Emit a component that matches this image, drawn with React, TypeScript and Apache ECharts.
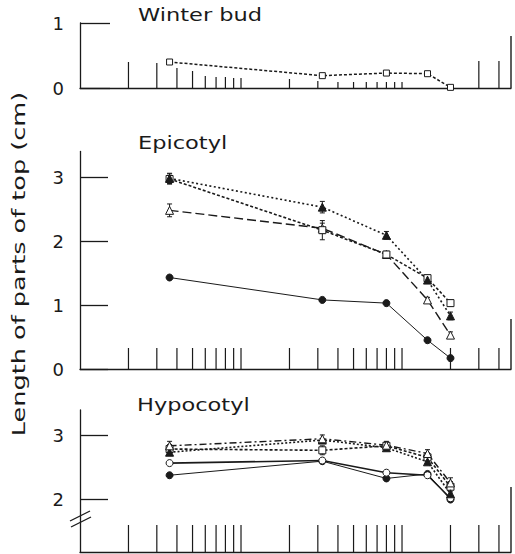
import React, { useEffect, useRef } from "react";
import * as echarts from "echarts";

// ---- data ----
const X_VALUES = [1.8, 16, 40, 72, 100];
const RUG_VALUES = [1, 1.5, 2, 2.5, 3, 3.5, 4, 4.5, 5, 10, 15, 20, 25, 30, 35, 40, 45, 50, 100, 150, 200];
const X_MIN = 0.5;
const X_MAX = 237.6;

const WB_SQUARE = [0.4, 0.19, 0.23, 0.22, 0.01];

const EPI_TRI_FILLED = [2.98, 2.53, 2.09, 1.39, 0.83];
const EPI_SQUARE = [2.97, 2.17, 1.79, 1.42, 1.03];
const EPI_TRI_OPEN = [2.48, 2.2, 1.79, 1.08, 0.53];
const EPI_CIRCLE_FILLED = [1.43, 1.08, 1.03, 0.45, 0.17];
const EPI_TRI_FILLED_ERR = [0.08, 0.09, 0.06, 0.05, 0.06];
const EPI_SQUARE_ERR = [0.08, 0.15, 0.05, 0.05, 0.05];
const EPI_TRI_OPEN_ERR = [0.1, 0.08, 0.04, 0.04, 0.05];

const HYP_TRI_OPEN = [2.84, 2.95, 2.85, 2.72, 2.26];
const HYP_TRI_FILLED = [2.74, 2.93, 2.81, 2.59, 2.09];
const HYP_SQUARE = [2.79, 2.77, 2.84, 2.66, 2.2];
const HYP_CIRCLE_OPEN = [2.57, 2.61, 2.42, 2.38, 2.02];
const HYP_CIRCLE_FILLED = [2.38, 2.6, 2.33, 2.4, 2.0];
const HYP_TRI_OPEN_ERR = [0.07, 0.06, 0.06, 0.06, 0.08];
const HYP_SQUARE_ERR = [0.07, 0.07, 0.06, 0.07, 0.08];

const WB_TICKS = [0, 1];
const EPI_TICKS = [0, 1, 2, 3];
const HYP_TICKS = [2, 3];

const TITLES = ["Winter bud", "Epicotyl", "Hypocotyl"];
const Y_NAME = "Length of parts of top (cm)";

// ---- styles ----
const INK = "#1a1a1a";
const FONT = "DejaVu Sans";
const RUG_HEIGHTS_WB = [26, 25, 20, 17, 12, 11, 11, 10, 10, 9, 7, 6, 6, 6, 6, 6, 6, 6, 0, 27, 27];
const RUG_H = [RUG_HEIGHTS_WB, 21, 27];
const EDGE_H = [52, 50, 65];
const Y_MINS = [0, 0, 1.18];

const lg = (v: number) => Math.log10(v);

function lineSeries(grid: number, values: number[], symbol: string, filled: boolean, lineType: any, lw: number, size = 7) {
  return {
    type: "line",
    xAxisIndex: grid,
    yAxisIndex: grid,
    data: values.map((v, i) => [lg(X_VALUES[i]), v]),
    symbol,
    symbolSize: size,
    showAllSymbol: true,
    lineStyle: { color: INK, width: lw, type: lineType },
    itemStyle: filled
      ? { color: INK, borderColor: INK, borderWidth: 1 }
      : { color: "#fff", borderColor: INK, borderWidth: 1 },
    z: 3,
  };
}

function errSeries(grid: number, values: number[], errs: number[]) {
  return {
    type: "custom",
    xAxisIndex: grid,
    yAxisIndex: grid,
    data: values.map((v, i) => [lg(X_VALUES[i]), v, errs[i]]),
    renderItem: (params: any, api: any) => {
      const x = api.value(0), y = api.value(1), e = api.value(2);
      if (!e) return null;
      const top = api.coord([x, y + e]);
      const bot = api.coord([x, y - e]);
      const c = 2.5;
      const st = { stroke: INK, lineWidth: 1 };
      return {
        type: "group",
        children: [
          { type: "line", shape: { x1: top[0], y1: top[1], x2: bot[0], y2: bot[1] }, style: st },
          { type: "line", shape: { x1: top[0] - c, y1: top[1], x2: top[0] + c, y2: top[1] }, style: st },
          { type: "line", shape: { x1: bot[0] - c, y1: bot[1], x2: bot[0] + c, y2: bot[1] }, style: st },
        ],
      };
    },
    z: 2,
    silent: true,
  };
}

function rugSeries(grid: number) {
  const hs = RUG_H[grid];
  const data: any[] = RUG_VALUES.map((v, i) => [lg(v), Array.isArray(hs) ? hs[i] : hs, 1.2]);
  data.push([lg(X_MAX), EDGE_H[grid], 1.4]);
  const yMin = Y_MINS[grid];
  return {
    type: "custom",
    xAxisIndex: grid,
    yAxisIndex: grid,
    data,
    clip: false,
    renderItem: (params: any, api: any) => {
      const x = api.value(0), h = api.value(1), w = api.value(2);
      if (!h) return null;
      const p = api.coord([x, yMin]);
      return {
        type: "line",
        shape: { x1: p[0], y1: p[1], x2: p[0], y2: p[1] - h },
        style: { stroke: INK, lineWidth: w },
      };
    },
    z: 1,
    silent: true,
  };
}

export default function App() {
  const ref = useRef<HTMLDivElement>(null);
  useEffect(() => {
    document.body.style.margin = "0";
    const chart = echarts.init(ref.current!, null, { renderer: "svg" });
    const grids = [
      { left: 80, top: 23, width: 431, height: 65 },
      { left: 80, top: 151.5, width: 431, height: 217.5 },
      { left: 80, top: 410, width: 431, height: 142 },
    ];
    const xAxes = grids.map((_, i) => ({
      type: "value",
      gridIndex: i,
      min: lg(X_MIN),
      max: lg(X_MAX),
      axisLine: { show: true, onZero: false, lineStyle: { color: INK, width: 1.3 } },
      axisTick: { show: false },
      axisLabel: { show: false },
      splitLine: { show: false },
    }));
    const mkY = (gridIndex: number, min: number, max: number, ticks: number[], tickLen: number) => ({
      type: "value",
      gridIndex,
      min,
      max,
      axisLine: { show: true, onZero: false, lineStyle: { color: INK, width: 1.3 } },
      axisTick: { show: true, inside: true, length: tickLen, customValues: ticks, lineStyle: { color: INK, width: 1.3 } },
      axisLabel: { color: INK, fontSize: 18, fontFamily: FONT, margin: 16, customValues: ticks },
      splitLine: { show: false },
    });
    const yAxes = [
      mkY(0, 0, 1, WB_TICKS, 30),
      mkY(1, 0, 3.4, EPI_TICKS, 28),
      mkY(2, 1.18, 3.4, HYP_TICKS, 28),
    ];
    const series: any[] = [
      rugSeries(0),
      rugSeries(1),
      rugSeries(2),
      lineSeries(0, WB_SQUARE, "rect", false, [3, 2], 1.5, 6),
      lineSeries(1, EPI_CIRCLE_FILLED, "circle", true, "solid", 1),
      lineSeries(1, EPI_TRI_OPEN, "triangle", false, [9, 4], 1.4, 8),
      lineSeries(1, EPI_SQUARE, "rect", false, [3, 2], 1.6, 7),
      lineSeries(1, EPI_TRI_FILLED, "triangle", true, [2, 2.5], 1.6, 8),
      errSeries(1, EPI_TRI_FILLED, EPI_TRI_FILLED_ERR),
      errSeries(1, EPI_SQUARE, EPI_SQUARE_ERR),
      errSeries(1, EPI_TRI_OPEN, EPI_TRI_OPEN_ERR),
      lineSeries(2, HYP_CIRCLE_FILLED, "circle", true, "solid", 1),
      lineSeries(2, HYP_CIRCLE_OPEN, "circle", false, "solid", 1.6),
      lineSeries(2, HYP_SQUARE, "rect", false, [3, 2], 1.6, 7),
      lineSeries(2, HYP_TRI_FILLED, "triangle", true, [2, 2], 1.6, 8),
      lineSeries(2, HYP_TRI_OPEN, "triangle", false, [7, 3, 2, 3], 1.4, 8),
      errSeries(2, HYP_TRI_OPEN, HYP_TRI_OPEN_ERR),
      errSeries(2, HYP_SQUARE, HYP_SQUARE_ERR),
    ];
    const titleStyle = (text: string) => ({ text, fill: INK, font: `18px "${FONT}"` });
    const graphic: any[] = [
      { type: "text", x: 138, y: 6, scaleX: 1.25, style: titleStyle(TITLES[0]) },
      { type: "text", x: 138, y: 134, scaleX: 1.25, style: titleStyle(TITLES[1]) },
      { type: "text", x: 137, y: 396, scaleX: 1.25, style: titleStyle(TITLES[2]) },
      {
        type: "text",
        x: 18,
        y: 264,
        rotation: Math.PI / 2,
        scaleX: 1.42,
        style: { text: Y_NAME, fill: INK, font: `18px "${FONT}"`, textAlign: "center", textVerticalAlign: "middle" },
      },
      { type: "line", shape: { x1: 70, y1: 521, x2: 90, y2: 511 }, style: { stroke: INK, lineWidth: 1.3 } },
      { type: "line", shape: { x1: 71, y1: 527, x2: 91, y2: 517 }, style: { stroke: INK, lineWidth: 1.3 } },
    ];
    chart.setOption({
      animation: false,
      backgroundColor: "#fff",
      grid: grids,
      xAxis: xAxes,
      yAxis: yAxes,
      series,
      graphic,
    });
    return () => chart.dispose();
  }, []);
  return <div ref={ref} style={{ width: 515, height: 554 }} />;
}
